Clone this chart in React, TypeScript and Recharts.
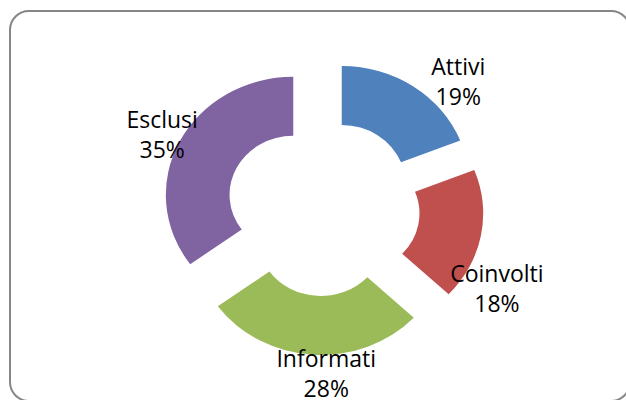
import React from 'react';
import { PieChart, Pie, Cell, Sector } from 'recharts';

const categories = ['Attivi', 'Coinvolti', 'Informati', 'Esclusi'];
const shares = [19, 18, 28, 35];
const colors = ['#4F81BD', '#C0504D', '#9BBB59', '#8064A2'];

const data = categories.map((name, i) => ({ name, value: shares[i] }));

const CX = 323;
const CY = 208;
const OUTER = 118;
const INNER = 59;
const EXPLODE = 29;
// the source picture is a bit wider than tall, so stretch the ring horizontally
const STRETCH_X = 1.08;
const EXPLODE_STRETCH_X = 1.15;
const LABEL_R = 175;
const RAD = Math.PI / 180;

// labels in the original were dragged by hand, so nudge each one
const labelNudge = [
  [30, 15],
  [-10, 44],
  [15, -13],
  [6, 2]];


function ExplodedSector(props: any) {
  const { cx, midAngle } = props;
  const ox = EXPLODE_STRETCH_X * EXPLODE * Math.cos(midAngle * RAD);
  const oy = -EXPLODE * Math.sin(midAngle * RAD);
  return (
    <g transform={`translate(${cx + ox},${oy}) scale(${STRETCH_X},1) translate(${-cx},0)`}>
      <Sector {...props} stroke="none" />
    </g>);

}

function renderLabel(props: any) {
  const { cx, cy, midAngle, index } = props;
  const x = cx + 1.07 * LABEL_R * Math.cos(midAngle * RAD) + labelNudge[index][0];
  const y = cy - LABEL_R * Math.sin(midAngle * RAD) + labelNudge[index][1];
  return (
    <text
      x={x}
      y={y}
      textAnchor="middle"
      fill="#000"
      fontFamily="'Open Sans', sans-serif"
      fontSize={23}>
      <tspan x={x} y={y - 3}>{categories[index]}</tspan>
      <tspan x={x} y={y + 27}>{shares[index]}%</tspan>
    </text>);

}

export default function App() {
  return (
    <div
      style={{
        position: 'absolute',
        left: 0,
        top: 0,
        width: 626,
        height: 400,
        overflow: 'hidden',
        background: '#fff'
      }}>

      <div
        style={{
          position: 'absolute',
          left: 9,
          top: 10,
          width: 622,
          height: 392,
          boxSizing: 'border-box',
          border: '2px solid #868686',
          borderRadius: 20
        }} />

      <div style={{ position: 'absolute', left: 0, top: 0 }}>
        <PieChart width={626} height={400} margin={{ top: 0, right: 0, bottom: 0, left: 0 }}>
          <Pie
            data={data}
            dataKey="value"
            nameKey="name"
            cx={CX}
            cy={CY}
            innerRadius={INNER}
            outerRadius={OUTER}
            startAngle={90}
            endAngle={-270}
            stroke="none"
            labelLine={false}
            label={renderLabel}
            shape={ExplodedSector}
            activeShape={ExplodedSector}
            isAnimationActive={false}>

            {data.map((d, i) =>
            <Cell key={d.name} fill={colors[i]} />
            )}
          </Pie>
        </PieChart>
      </div>
    </div>);

}
